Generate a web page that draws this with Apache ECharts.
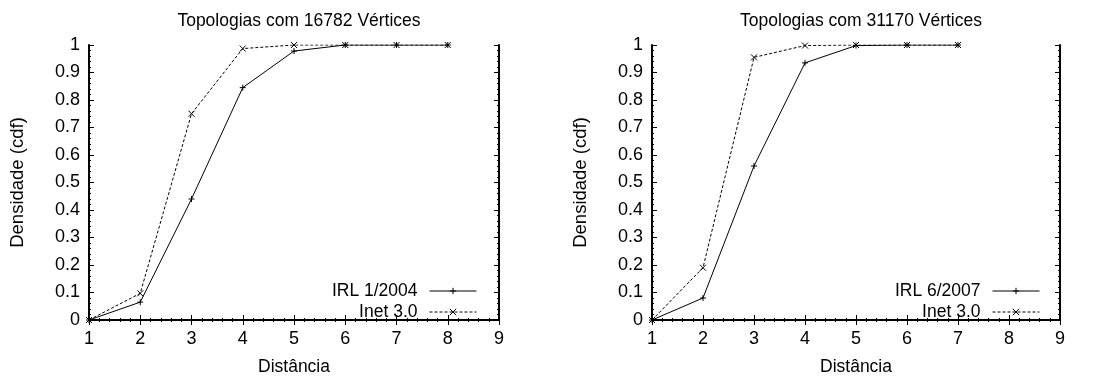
<!DOCTYPE html>
<html>
<head>
<meta charset="utf-8">
<script src="https://cdn.jsdelivr.net/npm/echarts@6/dist/echarts.min.js"></script>
<style>
  html, body { margin: 0; padding: 0; background: #fff; }
  #chart { width: 1098px; height: 381px; }
</style>
</head>
<body>
<div id="chart"></div>
<script>
"use strict";
// dados
var distLeft = [1, 2, 3, 4, 5, 6, 7, 8];
var irl2004 = [0, 0.065, 0.44, 0.845, 0.978, 1, 1, 1];
var inetLeft = [0, 0.097, 0.75, 0.987, 1, 1, 1, 1];

var distRight = [1, 2, 3, 4, 5, 6, 7];
var irl2007 = [0, 0.08, 0.56, 0.935, 0.998, 1, 1];
var inetRight = [0, 0.19, 0.955, 0.998, 1, 1, 1];

var titles = ["Topologias com 16782 Vértices", "Topologias com 31170 Vértices"];
var legendLeft = ["IRL 1/2004", "Inet 3.0"];
var legendRight = ["IRL 6/2007", "Inet 3.0"];

var FONT = "Liberation Sans";
var plusSym = "path://M0,5L10,5M5,0L5,10";
var crossSym = "path://M0,0L10,10M10,0L0,10";

function pairs(xs, ys) {
    return xs.map(function (x, i) { return [x, ys[i]]; });
}

function xAxes(grid) {
    var base = {
        gridIndex: grid, type: "value", min: 1, max: 9, interval: 1,
        splitLine: { show: false },
        axisLine: { show: true, lineStyle: { color: "#000", width: 2 } },
        axisTick: { inside: true, length: 5, lineStyle: { color: "#000" } },
        minorTick: { show: true, splitNumber: 5, length: 2, lineStyle: { color: "#000" } }
    };
    return [
        Object.assign({}, base, {
            position: "bottom",
            name: "Distância", nameLocation: "middle", nameGap: 38,
            nameTextStyle: { fontFamily: FONT, fontSize: 17.5, color: "#000" },
            axisLabel: { fontFamily: FONT, fontSize: 18, color: "#000", margin: 10 }
        }),
        Object.assign({}, base, { position: "top", axisLabel: { show: false } })
    ];
}

function yAxes(grid) {
    var base = {
        gridIndex: grid, type: "value", min: 0, max: 1, interval: 0.1,
        splitLine: { show: false },
        axisLine: { show: true, lineStyle: { color: "#000", width: 2 } },
        axisTick: { inside: true, length: 5, lineStyle: { color: "#000" } },
        minorTick: { show: true, splitNumber: 5, length: 2, lineStyle: { color: "#000" } }
    };
    return [
        Object.assign({}, base, {
            position: "left",
            name: "Densidade (cdf)", nameLocation: "middle", nameGap: 62,
            nameTextStyle: { fontFamily: FONT, fontSize: 18.5, color: "#000" },
            axisLabel: { fontFamily: FONT, fontSize: 18, color: "#000", margin: 9,
                formatter: function (v) { return String(Math.round(v * 10) / 10); } }
        }),
        Object.assign({}, base, { position: "right", axisLabel: { show: false } })
    ];
}

function lineSeries(name, data, xi, yi, dashed) {
    return {
        name: name, type: "line", data: data,
        xAxisIndex: xi, yAxisIndex: yi,
        symbol: dashed ? crossSym : plusSym, symbolSize: 6,
        showSymbol: true, animation: false,
        itemStyle: { color: "#000", borderColor: "#000", borderWidth: 1 },
        lineStyle: { color: "#000", width: 1, type: dashed ? [3, 2] : "solid" },
        emphasis: { disabled: true }
    };
}

var legendBase = {
    orient: "vertical", align: "right", itemWidth: 47, itemHeight: 8, itemGap: 3,
    padding: 0,
    lineStyle: { width: 1 },
    itemStyle: { borderWidth: 1 },
    textStyle: { fontFamily: FONT, fontSize: 17.5, color: "#000", padding: [0, 7, 0, 0] },
    selectedMode: false, top: 282
};

var chart = echarts.init(document.getElementById("chart"), null, { renderer: "canvas" });
chart.setOption({
    backgroundColor: "#fff",
    animation: false,
    title: [
        { text: titles[0], left: 294, top: 7, textAlign: "center",
          textStyle: { fontFamily: FONT, fontSize: 17.5, fontWeight: "normal", color: "#000" } },
        { text: titles[1], left: 856, top: 7, textAlign: "center",
          textStyle: { fontFamily: FONT, fontSize: 17.5, fontWeight: "normal", color: "#000" } }
    ],
    legend: [
        Object.assign({}, legendBase, { data: legendLeft, right: 621 }),
        Object.assign({}, legendBase, { data: legendRight, right: 58 })
    ],
    grid: [
        { left: 89, right: 599, top: 45, bottom: 59 },
        { left: 652, right: 38, top: 45, bottom: 59 }
    ],
    xAxis: xAxes(0).concat(xAxes(1)),
    yAxis: yAxes(0).concat(yAxes(1)),
    series: [
        lineSeries(legendLeft[0], pairs(distLeft, irl2004), 0, 0, false),
        lineSeries(legendLeft[1], pairs(distLeft, inetLeft), 0, 0, true),
        lineSeries(legendRight[0], pairs(distRight, irl2007), 2, 2, false),
        lineSeries(legendRight[1], pairs(distRight, inetRight), 2, 2, true)
    ]
});
</script>
</body>
</html>
